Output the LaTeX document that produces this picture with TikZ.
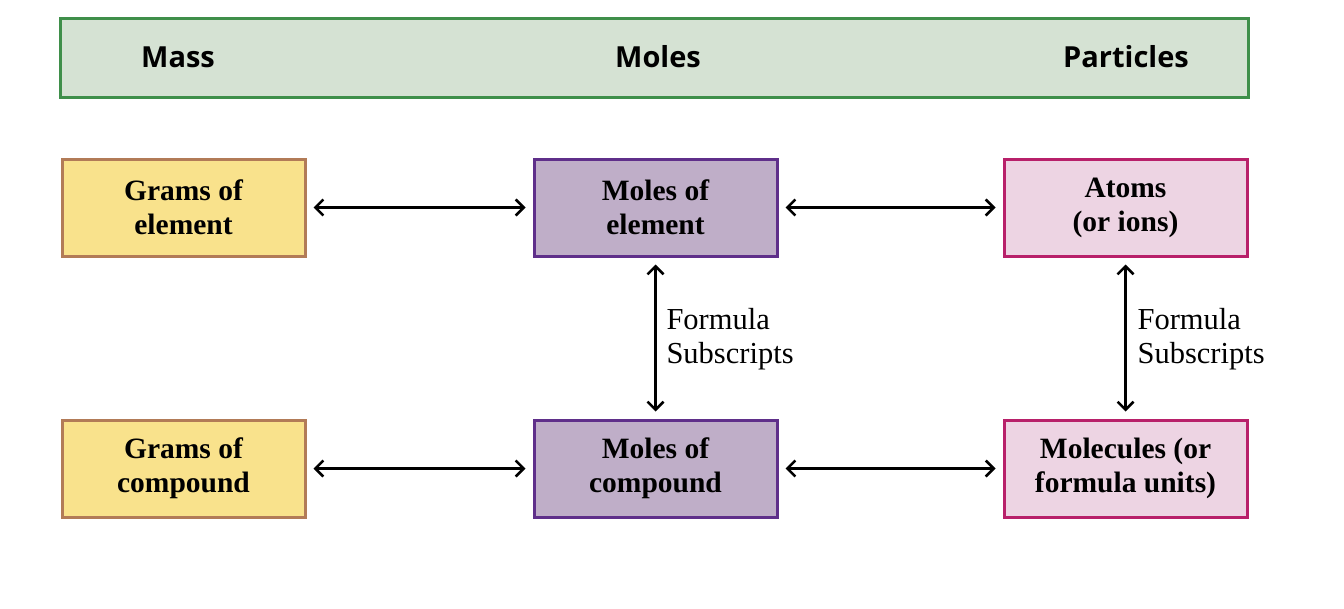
\documentclass[tikz,border=0pt]{standalone}
\usepackage{fontspec}
\setmainfont{Liberation Serif}
\newfontfamily\headfont{Open Sans}
\usetikzlibrary{arrows.meta}
\definecolor{headfill}{HTML}{D5E2D3}
\definecolor{headline}{HTML}{3F8F4A}
\definecolor{massfill}{HTML}{F9E28C}
\definecolor{massline}{HTML}{B27B57}
\definecolor{molfill}{HTML}{BFAEC8}
\definecolor{molline}{HTML}{5F2F8A}
\definecolor{partfill}{HTML}{EDD4E3}
\definecolor{partline}{HTML}{B8206A}
\begin{document}
\begin{tikzpicture}[x=1pt,y=-1pt,
    box/.style={draw,line width=3pt,minimum width=243pt,minimum height=97pt,
      align=center,font=\fontsize{29.5}{34}\selectfont\bfseries,inner sep=0pt},
    massbox/.style={box,fill=massfill,draw=massline},
    molbox/.style={box,fill=molfill,draw=molline},
    partbox/.style={box,fill=partfill,draw=partline},
    head/.style={font=\headfont\fontsize{29}{34}\selectfont\bfseries},
    conv/.style={{Straight Barb[length=8pt,width=16pt]}-{Straight Barb[length=8pt,width=16pt]},
      line width=2.5pt,shorten <=7pt,shorten >=7pt},
    note/.style={font=\fontsize{30.5}{34}\selectfont,align=left,anchor=west}]
    \useasboundingbox (0,0) rectangle (1344,608);
    % header bar
    \draw[fill=headfill,draw=headline,line width=3pt] (60,18) rectangle (1248,97);
    \node[head] (mass) at (178,57) {Mass};
    \node[head] (moles) at (658,57) {Moles};
    \node[head] (particles) at (1126,57) {Particles};
    % boxes
    \node[massbox] (gel) at (183.5,207.5) {Grams of\\element};
    \node[molbox] (mel) at (655.5,207.5) {Moles of\\element};
    \node[partbox] (atoms) at (1125.5,207.5) {Atoms\\(or ions)};
    \node[massbox] (gcp) at (183.5,468.5) {Grams of\\compound};
    \node[molbox] (mcp) at (655.5,468.5) {Moles of\\compound};
    \node[partbox] (molec) at (1125.5,468.5) {Molecules (or\\formula units)};
    % conversions
    \draw[conv] (gel) -- (mel);
    \draw[conv] (mel) -- (atoms);
    \draw[conv] (gcp) -- (mcp);
    \draw[conv] (mcp) -- (molec);
    \draw[conv] (mel) -- (mcp);
    \draw[conv] (atoms) -- (molec);
    \node[note] (fs1) at (663,339) {Formula\\Subscripts};
    \node[note] (fs2) at (1134,339) {Formula\\Subscripts};
\end{tikzpicture}
\end{document}
